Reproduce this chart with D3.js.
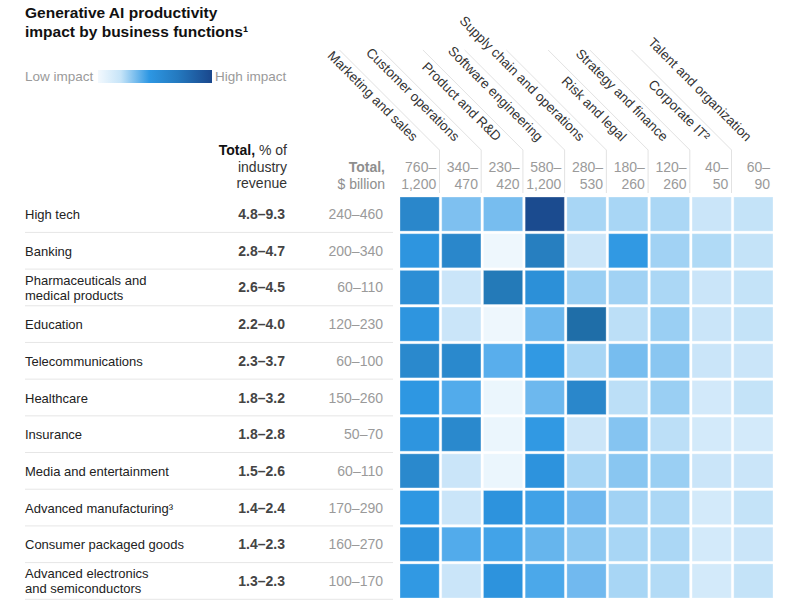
<!DOCTYPE html>
<html>
<head>
<meta charset="utf-8">
<script src="https://cdn.jsdelivr.net/npm/d3@7"></script>
<style>
  html, body { margin: 0; padding: 0; background: #fff; }
  svg { display: block; font-family: "Liberation Sans", Arial, sans-serif; }
</style>
</head>
<body>
<svg id="chart" width="788" height="614"></svg>
<script>
const functions = ["Marketing and sales", "Customer operations", "Product and R&D", "Software engineering",
  "Supply chain and operations", "Risk and legal", "Strategy and finance", "Corporate IT²", "Talent and organization"];
const functionTotals = [["760–", "1,200"], ["340–", "470"], ["230–", "420"], ["580–", "1,200"], ["280–", "530"],
  ["180–", "260"], ["120–", "260"], ["40–", "50"], ["60–", "90"]];
const industries = [["High tech"], ["Banking"], ["Pharmaceuticals and", "medical products"], ["Education"],
  ["Telecommunications"], ["Healthcare"], ["Insurance"], ["Media and entertainment"], ["Advanced manufacturing³"],
  ["Consumer packaged goods"], ["Advanced electronics", "and semiconductors"]];
const pctRevenue = ["4.8–9.3", "2.8–4.7", "2.6–4.5", "2.2–4.0", "2.3–3.7", "1.8–3.2", "1.8–2.8", "1.5–2.6",
  "1.4–2.4", "1.4–2.3", "1.3–2.3"];
const billions = ["240–460", "200–340", "60–110", "120–230", "60–100", "150–260", "50–70", "60–110",
  "170–290", "160–270", "100–170"];
// impact score per industry (rows) x function (columns), 0 = low, 100 = high
const impact = [
  [81, 47, 49, 99, 35, 35, 34, 23, 25],
  [73, 81, 0, 84, 22, 71, 37, 32, 25],
  [77, 23, 86, 76, 39, 37, 34, 23, 25],
  [73, 23, 0, 52, 90, 28, 39, 23, 25],
  [80, 80, 58, 71, 35, 49, 44, 23, 23],
  [72, 60, 2, 52, 81, 28, 39, 20, 25],
  [73, 80, 2, 71, 22, 45, 28, 19, 19],
  [80, 23, 2, 74, 35, 44, 39, 23, 23],
  [72, 23, 74, 66, 51, 37, 34, 19, 25],
  [74, 60, 65, 54, 43, 35, 34, 19, 23],
  [71, 23, 74, 62, 51, 35, 31, 19, 25]
];

const svg = d3.select("#chart");
const color = d3.scaleLinear()
  .domain([0, 20, 35, 50, 62, 72, 82, 90, 100])
  .range(["#eef7fd", "#d2e9fa", "#a8d6f5", "#74bbef", "#4ba8ea", "#2e97e2", "#2985c8", "#1f6ea8", "#1a478c"])
  .interpolate(d3.interpolateRgb);

const x = d3.scaleBand().domain(d3.range(functions.length)).range([400, 773]).paddingInner(0.06);
const y = d3.scaleBand().domain(d3.range(industries.length)).range([197, 598]).paddingInner(0.07);
const gapX = x.step() - x.bandwidth();
const gapY = y.step() - y.bandwidth();

// Title
const title = svg.append("text").attr("x", 25).attr("y", 18)
  .attr("font-size", 15.5).attr("font-weight", "bold").attr("fill", "#111");
title.append("tspan").attr("x", 25).attr("y", 18).text("Generative AI productivity");
title.append("tspan").attr("x", 25).attr("y", 37).text("impact by business functions¹");

// Legend
const defs = svg.append("defs");
const grad = defs.append("linearGradient").attr("id", "lg").attr("x1", "0%").attr("x2", "100%");
[[0, "#f3f9fe"], [0.2, "#c6e4f8"], [0.45, "#2d97e3"], [0.7, "#2479bf"], [1, "#1a478c"]].forEach(s =>
  grad.append("stop").attr("offset", s[0]).attr("stop-color", s[1]));
svg.append("text").attr("x", 25).attr("y", 81).attr("font-size", 13.5).attr("fill", "#9a9a9a").text("Low impact");
svg.append("rect").attr("x", 98).attr("y", 70).attr("width", 114).attr("height", 13).attr("fill", "url(#lg)");
svg.append("text").attr("x", 215).attr("y", 81).attr("font-size", 13.5).attr("fill", "#9a9a9a").text("High impact");

// Column headers: guide lines and rotated labels
const header = svg.append("g");
functions.forEach((f, i) => {
  const re = x(i) + x.bandwidth();
  if (i < functions.length - 1) {
    const lx = re + gapX / 2 - 1;
    header.append("path")
      .attr("d", `M${lx - 100},50 L${lx},150 L${lx},193`)
      .attr("fill", "none").attr("stroke", "#e2e2e2").attr("stroke-width", 1);
  }
  header.append("text")
    .attr("transform", `translate(${re - 27},142) rotate(45)`)
    .attr("text-anchor", "end").attr("font-size", 13.5).attr("fill", "#333")
    .text(f);
  const t = header.append("text").attr("text-anchor", "end").attr("font-size", 14).attr("fill", "#9a9a9a");
  t.append("tspan").attr("x", re - 3).attr("y", 172).text(functionTotals[i][0]);
  t.append("tspan").attr("x", re - 3).attr("y", 189).text(functionTotals[i][1]);
});

// Left header
const h1 = svg.append("text").attr("text-anchor", "end").attr("font-size", 14).attr("fill", "#333");
const l1 = h1.append("tspan").attr("x", 287).attr("y", 155);
l1.append("tspan").attr("font-weight", "bold").attr("fill", "#111").text("Total,");
l1.append("tspan").text(" % of");
h1.append("tspan").attr("x", 287).attr("y", 171.5).text("industry");
h1.append("tspan").attr("x", 287).attr("y", 188).text("revenue");

const h2 = svg.append("text").attr("text-anchor", "end").attr("font-size", 14).attr("fill", "#8e8e8e");
h2.append("tspan").attr("x", 385).attr("y", 172).attr("font-weight", "bold").text("Total,");
h2.append("tspan").attr("x", 385).attr("y", 189).text("$ billion");

// Rows
const rows = svg.append("g");
industries.forEach((lab, r) => {
  const cy = y(r) + y.bandwidth() / 2;
  rows.append("line").attr("x1", 25).attr("x2", 393)
    .attr("y1", y(r) + y.bandwidth() + gapY / 2).attr("y2", y(r) + y.bandwidth() + gapY / 2)
    .attr("stroke", "#e6e6e6").attr("stroke-width", 1);
  const t = rows.append("text").attr("font-size", 13).attr("fill", "#222");
  if (lab.length === 1) {
    t.append("tspan").attr("x", 25).attr("y", cy + 5).text(lab[0]);
  } else {
    t.append("tspan").attr("x", 25).attr("y", cy - 2.5).text(lab[0]);
    t.append("tspan").attr("x", 25).attr("y", cy + 12.5).text(lab[1]);
  }
  rows.append("text").attr("x", 285).attr("y", cy + 5).attr("text-anchor", "end")
    .attr("font-size", 14).attr("font-weight", "bold").attr("fill", "#444").text(pctRevenue[r]);
  rows.append("text").attr("x", 383).attr("y", cy + 5).attr("text-anchor", "end")
    .attr("font-size", 14).attr("fill", "#9a9a9a").text(billions[r]);
});

// Cells
const cells = [];
impact.forEach((row, r) => row.forEach((v, c) => cells.push({ r, c, v })));
svg.append("g").selectAll("rect").data(cells).join("rect")
  .attr("x", d => x(d.c)).attr("y", d => y(d.r))
  .attr("width", x.bandwidth()).attr("height", y.bandwidth())
  .attr("fill", d => color(d.v))
  .attr("stroke", "rgba(255,255,255,0.3)").attr("stroke-width", 1);
</script>
</body>
</html>
